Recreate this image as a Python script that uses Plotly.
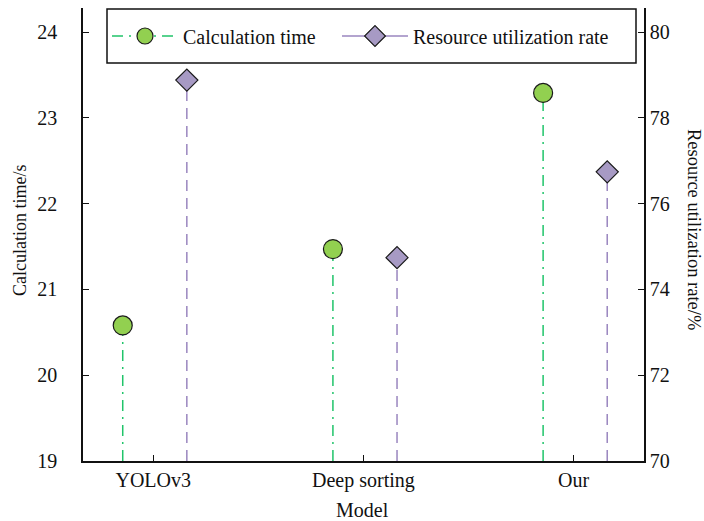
import plotly.graph_objects as go

# Model comparison: calculation time (left axis) vs resource utilization (right axis)
models = ["YOLOv3", "Deep sorting", "Our"]
calc_time = [20.58, 21.47, 23.29]          # seconds
resource_rate = [78.88, 74.74, 76.74]      # percent

time_ticks = [19, 20, 21, 22, 23, 24]
rate_ticks = [70, 72, 74, 76, 78, 80]

pos = list(range(len(models)))
off_time = -0.145
off_rate = 0.16

GREEN_LINE = "#20c46a"
GREEN_FILL = "#92d050"
PURPLE_LINE = "#9a86bf"
PURPLE_FILL = "#a79ac4"
FONT = "Liberation Serif, Times New Roman, serif"
FS = 20

# plot area in pixels (used to place the legend frame in paper coordinates)
L, R, T, B = 83, 644, 8, 461


def px_x(px):
    return (px - L) / (R - L)


def px_y(py):
    return (B - py) / (B - T)


x_time = [p + off_time for p in pos]
x_rate = [p + off_rate for p in pos]


def stems(xs, ys, base):
    sx, sy = [], []
    for x, y in zip(xs, ys):
        sx += [x, x, None]
        sy += [base, y, None]
    return sx, sy


fig = go.Figure()

# stems
sx, sy = stems(x_time, calc_time, time_ticks[0])
fig.add_trace(go.Scatter(x=sx, y=sy, mode="lines", showlegend=False, hoverinfo="skip",
                         line=dict(color=GREEN_LINE, width=1.5, dash="11px,6px,2px,6px")))
sx, sy = stems(x_rate, resource_rate, rate_ticks[0])
fig.add_trace(go.Scatter(x=sx, y=sy, mode="lines", showlegend=False, hoverinfo="skip", yaxis="y2",
                         line=dict(color=PURPLE_LINE, width=1.5, dash="11px,7px")))

# heads
fig.add_trace(go.Scatter(x=x_time, y=calc_time, mode="markers", showlegend=False,
                         marker=dict(symbol="circle", size=19, color=GREEN_FILL,
                                     line=dict(color="#1a1a1a", width=1.2))))
fig.add_trace(go.Scatter(x=x_rate, y=resource_rate, mode="markers", showlegend=False, yaxis="y2",
                         marker=dict(symbol="diamond", size=17, color=PURPLE_FILL,
                                     line=dict(color="#1a1a1a", width=1.2))))

# legend entries (one legend per entry, inside a shared frame)
fig.add_trace(go.Scatter(x=[None], y=[None], mode="lines+markers", name="Calculation time",
                         legend="legend",
                         line=dict(color=GREEN_LINE, width=1.5, dash="11px,6px,2px,6px"),
                         marker=dict(symbol="circle", size=19, color=GREEN_FILL,
                                     line=dict(color="#1a1a1a", width=1.2))))
fig.add_trace(go.Scatter(x=[None], y=[None], mode="lines+markers", name="Resource utilization rate",
                         yaxis="y2", legend="legend2",
                         line=dict(color=PURPLE_LINE, width=1.5),
                         marker=dict(symbol="diamond", size=17, color=PURPLE_FILL,
                                     line=dict(color="#1a1a1a", width=1.2))))

legend_common = dict(orientation="h", yanchor="middle", xanchor="left", y=px_y(36),
                     borderwidth=0, bgcolor="rgba(0,0,0,0)", itemwidth=66,
                     font=dict(size=FS, family=FONT, color="#111"))

fig.update_layout(
    width=704, height=521,
    margin=dict(l=L, r=704 - R, t=T, b=521 - B),
    paper_bgcolor="white", plot_bgcolor="white",
    font=dict(family=FONT, size=FS, color="#111"),
    xaxis=dict(range=[-0.334, 2.335], tickmode="array", tickvals=pos, ticktext=models,
               showline=True, linecolor="#111", linewidth=1.5, ticks="inside", ticklen=6,
               tickcolor="#111", showgrid=False, zeroline=False, fixedrange=True),
    yaxis=dict(range=[19, 24.28], tickvals=time_ticks, showline=True, linecolor="#111",
               linewidth=1.5, ticks="inside", ticklen=6, tickcolor="#111",
               ticklabelstandoff=20, showgrid=False, zeroline=False),
    yaxis2=dict(range=[70, 80.56], tickvals=rate_ticks, overlaying="y", side="right",
                showline=True, linecolor="#111", linewidth=1.5, ticks="inside", ticklen=6,
                tickcolor="#111", showgrid=False, zeroline=False),
    legend=dict(x=px_x(107), **legend_common),
    legend2=dict(x=px_x(337), **legend_common),
    shapes=[
        dict(type="rect", xref="paper", yref="paper",
             x0=px_x(107), x1=px_x(636), y0=px_y(63), y1=px_y(9),
             line=dict(color="#111", width=1.5), fillcolor="white", layer="below"),
    ],
    annotations=[
        dict(text="Model", xref="paper", yref="paper", x=px_x(362), y=-0.108,
             xanchor="center", yanchor="middle", showarrow=False, font=dict(size=FS)),
        dict(text="Calculation time/s", xref="paper", yref="paper", x=px_x(20),
             y=px_y(231), textangle=-90, xanchor="center", yanchor="middle", showarrow=False,
             font=dict(size=18)),
        dict(text="Resource utilization rate/%", xref="paper", yref="paper",
             x=px_x(694), y=px_y(229), textangle=90, xanchor="center", yanchor="middle",
             showarrow=False, font=dict(size=18.5)),
    ],
)

fig.write_html("out.html")
